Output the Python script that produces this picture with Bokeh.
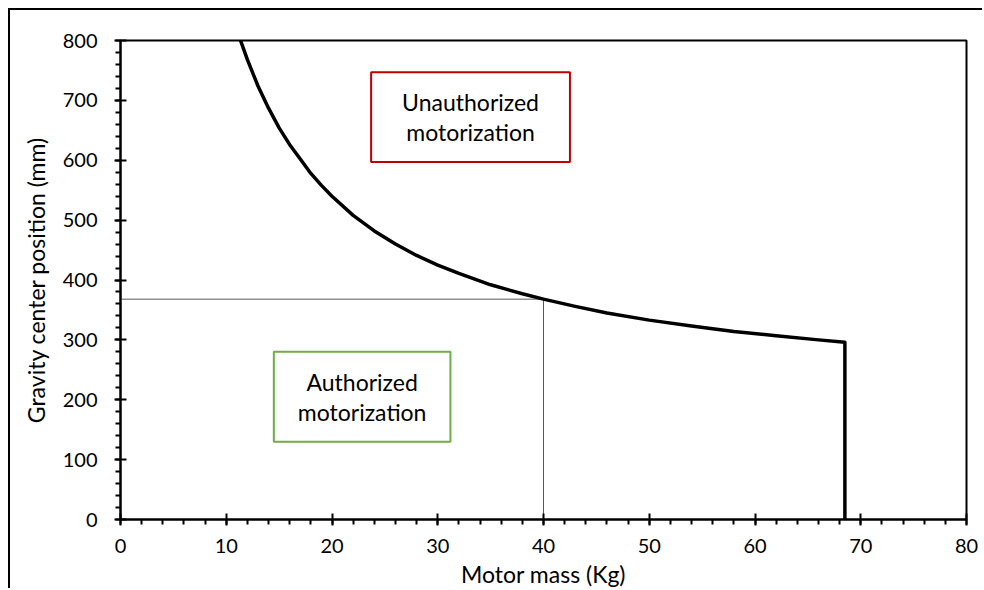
from bokeh.plotting import figure
from bokeh.models import SingleIntervalTicker, Range1d, ColumnDataSource
from bokeh.core.properties import value
from bokeh.embed import file_html
from bokeh.resources import INLINE

# Curve: motor mass (kg) vs gravity center position (mm)
mass = [11.35, 12.0, 13.0, 14.0, 15.0, 16.0, 17.0, 18.0, 19.0, 20.0, 22.0, 24.0, 26.0, 28.0,
        30.0, 32.0, 35.0, 38.0, 40.0, 43.0, 46.0, 50.0, 54.0, 58.0, 62.0, 66.0, 68.5, 68.5]
gcp = [800, 768, 724, 687, 654, 626, 602, 578, 558, 540, 508, 482, 460, 441,
       425, 411, 392, 377, 368, 356, 345, 333, 323, 314, 307, 300, 296, 0]

# Reference point lines
ref_mass = 40
ref_gcp = 368

# Region labels
labels_x = [33.1, 22.85]
labels_y = [672, 205]
labels_text = ["Unauthorized\nmotorization", "Authorized\nmotorization"]

FONT = "Lato"

p = figure(width=974, height=580, output_backend="svg", toolbar_location=None,
           x_range=Range1d(0, 80), y_range=Range1d(0, 800))
p.styles = {"border-left": "2px solid black", "border-top": "2px solid black",
            "margin-left": "8px", "margin-top": "8px"}
p.min_border_left = 110
p.min_border_top = 30
p.min_border_right = 18
p.min_border_bottom = 60

p.grid.visible = False
p.outline_line_color = "black"
p.outline_line_width = 2
p.outline_line_alpha = 1

p.xaxis.ticker = SingleIntervalTicker(interval=10, num_minor_ticks=5)
p.yaxis.ticker = SingleIntervalTicker(interval=100, num_minor_ticks=5)
for ax in (p.xaxis, p.yaxis):
    ax.axis_line_width = 2
    ax.axis_line_color = "black"
    ax.major_tick_line_width = 2
    ax.minor_tick_line_width = 2
    ax.major_tick_line_color = "black"
    ax.minor_tick_line_color = "black"
    ax.major_tick_in = 6
    ax.major_tick_out = 6
    ax.minor_tick_in = 0
    ax.minor_tick_out = 5
    ax.major_label_text_font = FONT
    ax.major_label_text_font_size = "20px"
    ax.major_label_text_color = "black"
    ax.axis_label_text_font = FONT
    ax.axis_label_text_font_size = "23px"
    ax.axis_label_text_font_style = "normal"
    ax.axis_label_text_color = "black"

p.xaxis.axis_label = "Motor mass (Kg)"
p.yaxis.axis_label = "Gravity center position (mm)"
p.xaxis.major_label_standoff = 13
p.yaxis.major_label_standoff = 17
p.xaxis.axis_label_standoff = 4
p.yaxis.axis_label_standoff = 10

# reference lines
p.line([0, ref_mass], [ref_gcp, ref_gcp], line_color="#595959", line_width=1)
p.line([ref_mass, ref_mass], [0, ref_gcp], line_color="#595959", line_width=1)

# curve
p.line(mass, gcp, line_color="black", line_width=3.5, line_join="round")

# boxes
p.quad(left=[23.7], right=[42.5], bottom=[597], top=[747],
       fill_color="white", line_color="#C00000", line_width=2)
p.quad(left=[14.5], right=[31.2], bottom=[130], top=[280],
       fill_color="white", line_color="#70AD47", line_width=2)

src = ColumnDataSource(dict(x=labels_x, y=labels_y, t=labels_text))
p.text(x="x", y="y", text="t", source=src, text_font=value(FONT),
       text_font_size="23px", text_align="center", text_baseline="middle",
       text_line_height=1.08, text_color="black")

open("out.html", "w").write(file_html(p, INLINE))
